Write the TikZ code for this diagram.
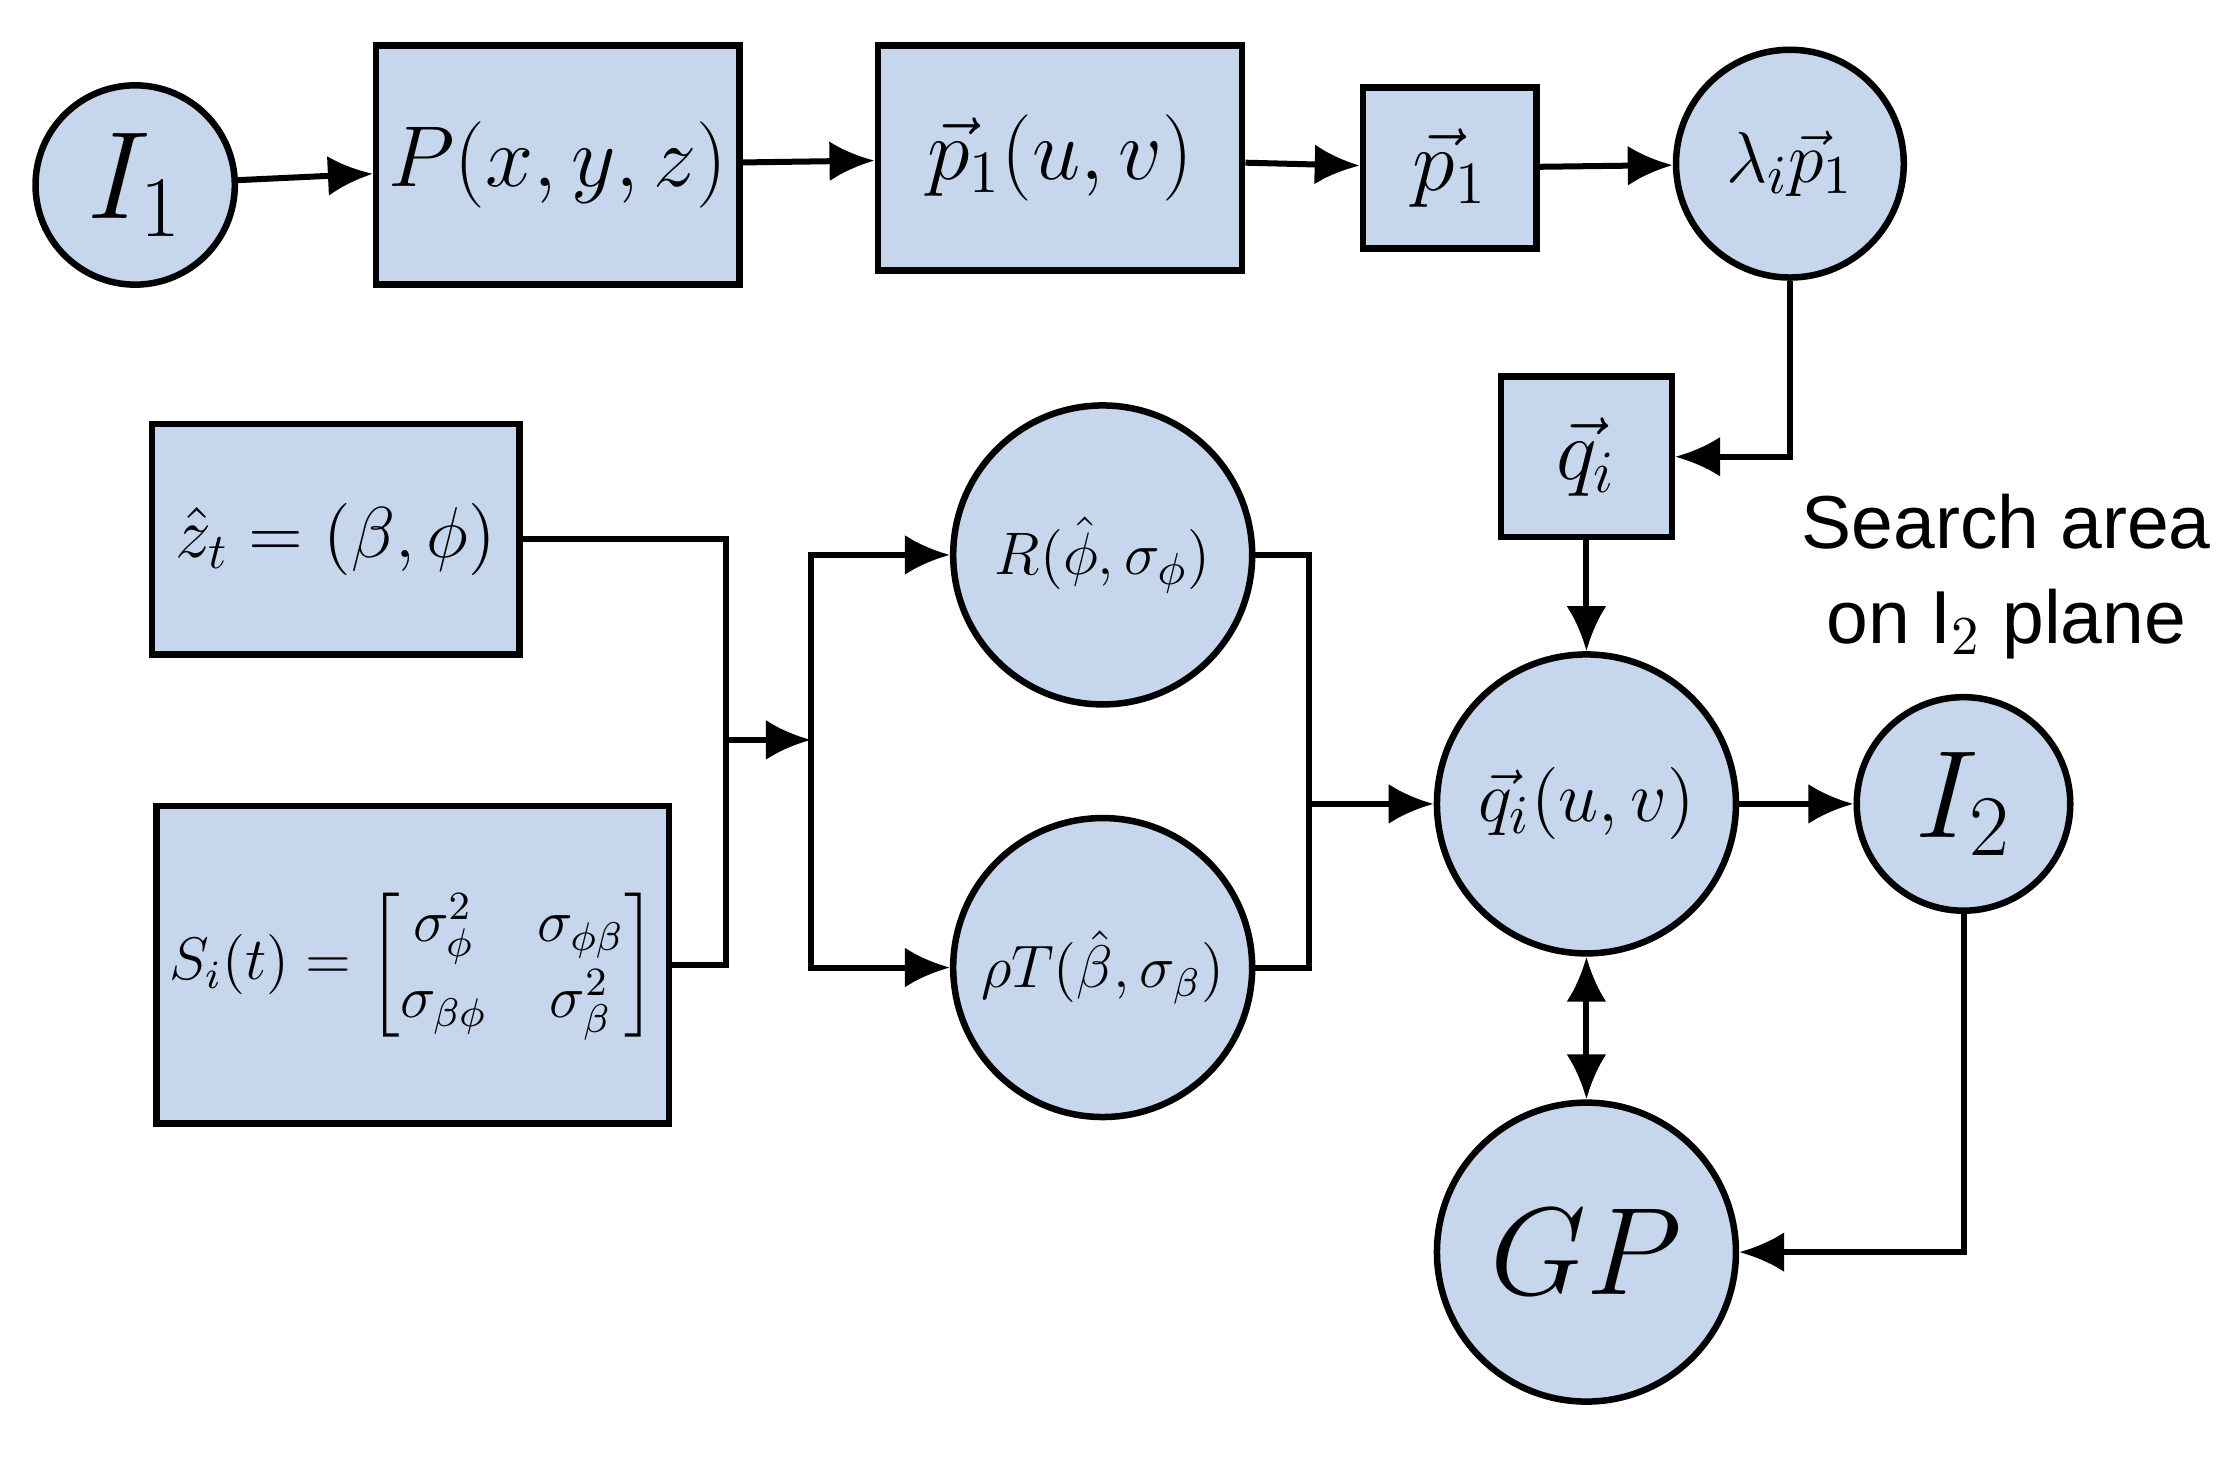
\documentclass[tikz,border=0pt]{standalone}
\usepackage{amsmath}
\usepackage{fontspec}
\newfontfamily\sans{Liberation Sans}
\usetikzlibrary{arrows.meta}
\definecolor{fillb}{HTML}{C6D6EC}
\begin{document}
\begin{tikzpicture}[x=0.01cm,y=-0.01cm,
  bx/.style={draw,fill=fillb,line width=1.3pt,inner sep=0pt},
  cir/.style={draw,fill=fillb,circle,line width=1.3pt,inner sep=0pt},
  ar/.style={line width=1.2pt,-{Latex[length=9pt,width=8pt]}},
  ln/.style={line width=1.2pt},
  every node/.style={font=\fontsize{17}{20}\selectfont}]
\useasboundingbox (0,0) rectangle (1568,1035);
\node[cir,minimum size=1.40cm,font=\fontsize{26}{30}\selectfont] (i1) at (95,130) {$I_1$};
\node[bx,minimum width=2.55cm,minimum height=1.68cm] (p) at (392,116) {$P(x,y,z)$};
\node[bx,minimum width=2.56cm,minimum height=1.58cm] (puv) at (745,111) {$\vec{p}_1(u,v)$};
\node[bx,minimum width=1.22cm,minimum height=1.13cm] (p1) at (1019,118) {$\vec{p}_1$};
\node[cir,minimum size=1.60cm,font=\fontsize{15}{18}\selectfont] (lp) at (1258,115) {$\lambda_i\vec{p}_1$};
\node[bx,minimum width=1.20cm,minimum height=1.13cm] (q) at (1115,321) {$\vec{q}_i$};
\node[font=\sans\fontsize{15}{19}\selectfont,align=center] (sa) at (1410,405) {Search area\\on I$_2$ plane};
\node[bx,minimum width=2.58cm,minimum height=1.62cm,font=\fontsize{14}{17}\selectfont] (z) at (236,379) {$\hat{z}_t=(\beta,\phi)$};
\node[bx,minimum width=3.60cm,minimum height=2.23cm,font=\fontsize{12}{15}\selectfont] (s) at (290,678) {$S_i(t)=\begin{bmatrix}\sigma_\phi^2 & \sigma_{\phi\beta}\\ \sigma_{\beta\phi} & \sigma_\beta^2\end{bmatrix}$};
\node[cir,minimum size=2.10cm,font=\fontsize{13}{16}\selectfont] (r) at (775,390) {$R(\hat{\phi},\sigma_\phi)$};
\node[cir,minimum size=2.10cm,font=\fontsize{12}{15}\selectfont] (t) at (775,680) {$\rho T(\hat{\beta},\sigma_\beta)$};
\node[cir,minimum size=2.10cm,font=\fontsize{15}{18}\selectfont] (quv) at (1115,565) {$\vec{q}_i(u,v)$};
\node[cir,minimum size=1.50cm,font=\fontsize{26}{30}\selectfont] (i2) at (1380,565) {$I_2$};
\node[cir,minimum size=2.10cm,font=\fontsize{24}{28}\selectfont] (gp) at (1115,880) {$GP$};
\coordinate (m1) at (510,520);
\coordinate (m2) at (570,520);
\coordinate (m3) at (920,565);
\draw[ar] (i1) -- (p);
\draw[ar] (p) -- (puv);
\draw[ar] (puv) -- (p1);
\draw[ar] (p1) -- (lp);
\draw[ar] (lp.south) |- (q.east);
\draw[ar] (q) -- (quv);
\draw[ln] (z.east) -| (m1);
\draw[ln] (s.east) -| (m1);
\draw[ar] (m1) -- (m2);
\draw[ar] (m2) |- (r.west);
\draw[ar] (m2) |- (t.west);
\draw[ln] (r.east) -| (m3);
\draw[ln] (t.east) -| (m3);
\draw[ar] (m3) -- (quv);
\draw[ar] (quv) -- (i2);
\draw[line width=1.2pt,{Latex[length=9pt,width=8pt]}-{Latex[length=9pt,width=8pt]}] (quv) -- (gp);
\draw[ar] (i2.south) |- (gp.east);
\end{tikzpicture}
\end{document}
